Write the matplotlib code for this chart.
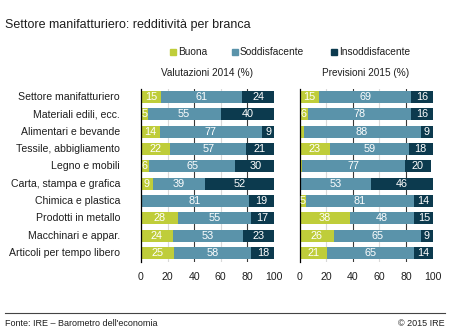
import numpy as np
import matplotlib
matplotlib.use("Agg")
import matplotlib.pyplot as plt
from matplotlib.patches import Rectangle

plt.rcParams['font.family'] = ['Liberation Sans', 'DejaVu Sans']

branche = ["Settore manifatturiero", "Materiali edili, ecc.", "Alimentari e bevande",
           "Tessile, abbigliamento", "Legno e mobili", "Carta, stampa e grafica",
           "Chimica e plastica", "Prodotti in metallo", "Macchinari e appar.",
           "Articoli per tempo libero"]

# Valutazioni 2014 (%)
buona_2014 = [15, 5, 14, 22, 6, 9, 0, 28, 24, 25]
sodd_2014 = [61, 55, 77, 57, 65, 39, 81, 55, 53, 58]
insodd_2014 = [24, 40, 9, 21, 30, 52, 19, 17, 23, 18]

# Previsioni 2015 (%)
buona_2015 = [15, 6, 3, 23, 2, 1, 5, 38, 26, 21]
sodd_2015 = [69, 78, 88, 59, 77, 53, 81, 48, 65, 65]
insodd_2015 = [16, 16, 9, 18, 20, 46, 14, 15, 9, 14]

serie = ["Buona", "Soddisfacente", "Insoddisfacente"]
colori = ["#bfcd3a", "#5a93aa", "#0c3a4e"]
TXT = "#1e1e1e"


def draw_panel(ax, vals):
    y = np.arange(len(branche))
    for x in (20, 60):
        ax.axvline(x, color="#d9d9d9", lw=0.8, zorder=0)
    for x in (40, 80):
        ax.axvline(x, color="#3a3a3a", lw=0.8, zorder=0)
    left = np.zeros(len(branche))
    for v, c in zip(vals, colori):
        v = np.array(v, dtype=float)
        ax.barh(y, v, left=left, height=0.7, color=c, zorder=2)
        for yi, (l, w) in enumerate(zip(left, v)):
            if w >= 5:
                ax.text(l + w / 2, yi, f"{int(w)}", color="white", ha="center",
                        va="center", fontsize=7.8, zorder=3)
        left += v
    ax.set_xlim(0, 100)
    ax.set_ylim(9.52, -0.46)
    ax.set_xticks([0, 20, 40, 60, 80, 100])
    ax.tick_params(axis="x", length=0, pad=7, labelsize=7.6, labelcolor=TXT)
    ax.set_yticks([])
    for s in ("top", "right", "bottom"):
        ax.spines[s].set_visible(False)
    ax.spines["left"].set_color("black")
    ax.spines["left"].set_linewidth(0.9)


fig = plt.figure(figsize=(4.5, 3.32), dpi=100)
ax1 = fig.add_axes([0.3133, 0.2108, 0.2956, 0.5211])
ax2 = fig.add_axes([0.6656, 0.2108, 0.2956, 0.5211])

draw_panel(ax1, [buona_2014, sodd_2014, insodd_2014])
draw_panel(ax2, [buona_2015, sodd_2015, insodd_2015])

for yi, name in enumerate(branche):
    ax1.text(-0.158, yi, name, transform=ax1.get_yaxis_transform(), ha="right",
             va="center", fontsize=7.6, color=TXT)

fig.text(5 / 450, 1 - 25 / 332, "Settore manifatturiero: redditività per branca",
         fontsize=9, va="center", color=TXT)
fig.text(207 / 450, 1 - 73 / 332, "Valutazioni 2014 (%)", fontsize=7.2, ha="center",
         va="center", color=TXT)
fig.text(366 / 450, 1 - 73 / 332, "Previsioni 2015 (%)", fontsize=7.2, ha="center",
         va="center", color=TXT)

# legend
for xs, lab, c in zip([170, 232, 331], serie, colori):
    fig.patches.append(Rectangle((xs / 450, 1 - 55 / 332), 6 / 450, 6 / 332,
                                 transform=fig.transFigure, color=c))
    fig.text((xs + 8) / 450, 1 - 52 / 332, lab, fontsize=7.3, va="center", color=TXT)

# footer
fig.add_artist(plt.Line2D([5 / 450, 445 / 450], [1 - 313 / 332, 1 - 313 / 332],
                          transform=fig.transFigure, color="#444444", lw=0.8))
fig.text(5 / 450, 1 - 323 / 332, "Fonte: IRE – Barometro dell'economia", fontsize=6.5,
         va="center", color=TXT)
fig.text(445 / 450, 1 - 323 / 332, "© 2015 IRE", fontsize=6.5, va="center", ha="right",
         color=TXT)

fig.savefig("out.png", dpi=100)
